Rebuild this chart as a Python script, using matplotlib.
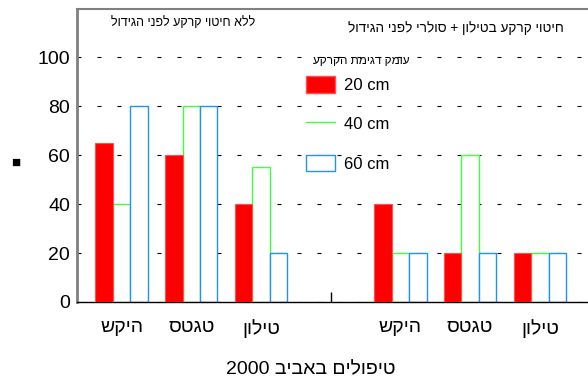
import re
import numpy as np
import matplotlib
matplotlib.use('Agg')
import matplotlib.pyplot as plt
from matplotlib.patches import Patch
from matplotlib.lines import Line2D

plt.rcParams['font.family'] = ['Liberation Sans', 'DejaVu Sans']

# data
categories = ['היקש', 'טגטס', 'טילון', '', 'היקש', 'טגטס', 'טילון']
depth_20 = [65, 60, 40, 0, 40, 20, 20]
depth_40 = [40, 80, 55, np.nan, 20, 60, 20]
depth_60 = [80, 80, 20, np.nan, 20, 20, 20]
series_labels = ['20 cm', '40 cm', '60 cm']
yticks = [0, 20, 40, 60, 80, 100]

title_left = 'ללא חיטוי קרקע לפני הגידול'
title_right = 'חיטוי קרקע בטילון + סולרי לפני הגידול'
legend_title = 'עומק דגימת הקרקע'
xlabel = 'טיפולים באביב 2000'


def rtl(s):
    # matplotlib has no bidi support: reverse, then put LTR runs back
    r = s[::-1]
    return re.sub(r'[0-9A-Za-z.]+', lambda m: m.group(0)[::-1], r)


red = '#ff0000'
green = '#40ff40'
blue = '#1e90ff'

fig = plt.figure(figsize=(5.88, 3.83), dpi=100)
ax = fig.add_axes([77 / 588, 1 - 302 / 383, 1 - 77 / 588, (302 - 9) / 383])

x = np.arange(len(categories))
w = 0.25
ax.bar(x - w, depth_20, w, color=red, edgecolor='#ff5050', linewidth=0.8, zorder=3)
ax.bar(x, depth_40, w, facecolor='white', edgecolor=green, linewidth=1, zorder=2)
ax.bar(x + w, depth_60, w, facecolor='white', edgecolor=blue, linewidth=1, zorder=2)

ax.set_xlim(-0.64, 6.69)
ax.set_ylim(0, 119.6)
ax.set_yticks(yticks)
ax.tick_params(axis='y', length=0, labelsize=14, pad=5)
ax.yaxis.grid(True, linestyle=(0, (3.6, 14.4)), linewidth=0.8, color='black')
ax.set_axisbelow(True)

# ticks sit behind the bars, so only the empty middle slot shows one
ax.set_xticks(x)
ax.set_xticklabels([rtl(c) for c in categories])
ax.tick_params(axis='x', direction='in', length=7, width=1, color='black',
               labelsize=14, pad=12)
ax.set_xlabel(rtl(xlabel), fontsize=14, labelpad=17, x=0.458)

for side in ['left', 'top']:
    ax.spines[side].set_color('#808080')
ax.spines['left'].set_linewidth(2)
ax.spines['top'].set_linewidth(1.5)
ax.spines['bottom'].set_color('black')
ax.spines['bottom'].set_linewidth(1)
ax.spines['right'].set_visible(False)

fig.text(183 / 588, 1 - 23 / 383, rtl(title_left), fontsize=9, ha='center', va='center')
fig.text(456 / 588, 1 - 28 / 383, rtl(title_right), fontsize=9.8, ha='center', va='center')
fig.text(16 / 588, 1 - 163 / 383, '■', fontsize=11, ha='center', va='center')
fig.text(361 / 588, 1 - 61 / 383, rtl(legend_title), fontsize=8.5, ha='center', va='center')

handles = [
    Patch(facecolor=red, edgecolor='#ff5050'),
    Line2D([0], [0], color=green, linewidth=1),
    Patch(facecolor='white', edgecolor=blue),
]
leg = ax.legend(handles, series_labels, loc='upper left',
                bbox_to_anchor=(306 / 588, 1 - 76 / 383), bbox_transform=fig.transFigure,
                frameon=False, fontsize=12, borderpad=0, borderaxespad=0,
                handlelength=1.75, handleheight=1.15, labelspacing=1.35,
                handletextpad=0.5)

fig.savefig('out.png', dpi=100)
